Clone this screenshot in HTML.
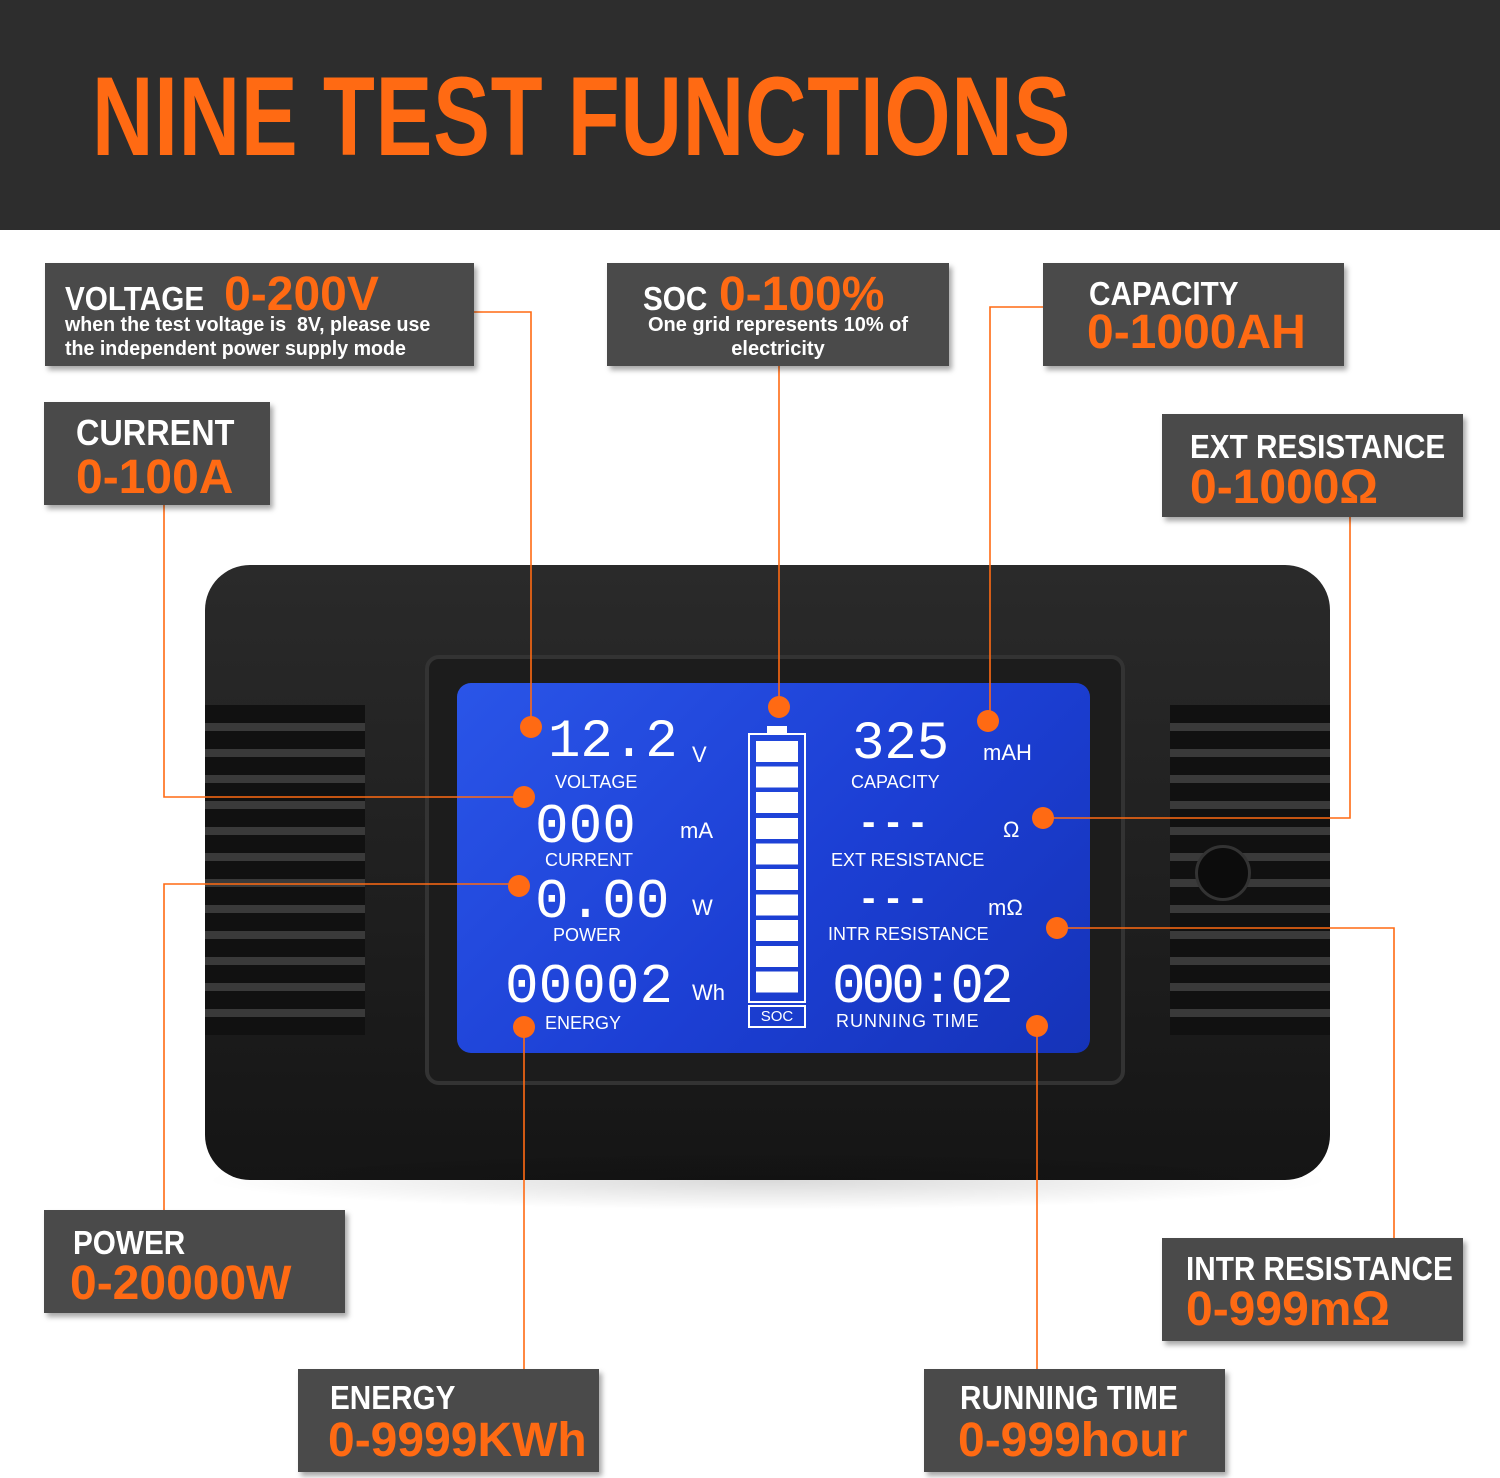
<!DOCTYPE html>
<html><head><meta charset="utf-8"><style>
*{margin:0;padding:0;box-sizing:border-box}
body{width:1500px;height:1478px;background:#fff;position:relative;overflow:hidden;font-family:"Liberation Sans",sans-serif}
.hdr{position:absolute;left:0;top:0;width:1500px;height:230px;background:#2d2d2d}
.title{position:absolute;left:92px;top:52px;font-size:112px;font-weight:bold;color:#ff6a13;white-space:nowrap;transform:scaleX(0.76);transform-origin:left top;letter-spacing:1px}
.box{position:absolute;background:#4a4a4a;box-shadow:3px 4px 5px rgba(0,0,0,.35);color:#fff;font-weight:bold}
.w{font-size:33px;color:#fff;transform:scaleX(.9);transform-origin:left top;white-space:nowrap}
.o{font-size:48px;color:#ff6a13;white-space:nowrap;line-height:1}
.s{font-size:20px;line-height:24px;color:#fff;white-space:nowrap}
.lcd{position:absolute;color:#fff;white-space:nowrap}
.dot{position:absolute;width:22px;height:22px;border-radius:50%;background:#ff6a13;margin:-11px 0 0 -11px}
</style></head><body>
<div class="hdr"></div>
<div class="title">NINE TEST FUNCTIONS</div>

<div style="position:absolute;left:205px;top:565px;width:1125px;height:615px;background:linear-gradient(#2a2a2a,#151515);border-radius:45px"></div>
<div style="position:absolute;left:200px;top:1150px;width:1135px;height:60px;background:radial-gradient(ellipse at center,rgba(0,0,0,.15),rgba(0,0,0,0) 70%)"></div>
<div style="position:absolute;left:205px;top:705px;width:160px;height:330px;background:repeating-linear-gradient(#111 0 18px,#3a3a3a 18px 26px)"></div>
<div style="position:absolute;left:1170px;top:705px;width:160px;height:330px;background:repeating-linear-gradient(#111 0 18px,#3a3a3a 18px 26px)"></div>
<div style="position:absolute;left:1195px;top:845px;width:56px;height:56px;border-radius:50%;background:#0c0c0c;border:3px solid #333"></div>
<div style="position:absolute;left:425px;top:655px;width:700px;height:430px;background:#1c1c1c;border-radius:14px;border:4px solid #333"></div>
<div style="position:absolute;left:457px;top:683px;width:633px;height:370px;background:linear-gradient(135deg,#2a55e8 0%,#1c3fd4 55%,#1533b8 100%);border-radius:14px"></div>

<div class="lcd" style="left:548px;top:712px;font-size:54px;font-family:'Liberation Mono',monospace">12.2</div>
<div class="lcd" style="left:692px;top:742px;font-size:22px">V</div>
<div class="lcd" style="left:555px;top:772px;font-size:18px">VOLTAGE</div>
<div class="lcd" style="left:535px;top:795px;font-size:56px;font-family:'Liberation Mono',monospace">000</div>
<div class="lcd" style="left:680px;top:818px;font-size:22px">mA</div>
<div class="lcd" style="left:545px;top:850px;font-size:18px">CURRENT</div>
<div class="lcd" style="left:535px;top:870px;font-size:56px;font-family:'Liberation Mono',monospace">0.00</div>
<div class="lcd" style="left:692px;top:895px;font-size:22px">W</div>
<div class="lcd" style="left:553px;top:925px;font-size:18px">POWER</div>
<div class="lcd" style="left:505px;top:955px;font-size:56px;font-family:'Liberation Mono',monospace">00002</div>
<div class="lcd" style="left:692px;top:980px;font-size:22px">Wh</div>
<div class="lcd" style="left:545px;top:1013px;font-size:18px">ENERGY</div>

<div style="position:absolute;left:748px;top:733px;width:58px;height:270px;border:2px solid #fff"></div>
<div style="position:absolute;left:767px;top:726px;width:20px;height:8px;background:#fff"></div>
<div style="position:absolute;left:756px;top:741px;width:42px;height:256px;background:repeating-linear-gradient(#fff 0 21px,transparent 21px 25.6px)"></div>
<div style="position:absolute;left:748px;top:1005px;width:58px;height:23px;border:2px solid #fff;color:#fff;font-size:15px;text-align:center;line-height:19px">SOC</div>

<div class="lcd" style="left:852px;top:714px;font-size:54px;font-family:'Liberation Mono',monospace">325</div>
<div class="lcd" style="left:983px;top:740px;font-size:22px">mAH</div>
<div class="lcd" style="left:851px;top:772px;font-size:18px">CAPACITY</div>
<div class="lcd" style="left:862px;top:800px;font-size:40px;font-weight:bold">- - -</div>
<div class="lcd" style="left:1003px;top:817px;font-size:22px">Ω</div>
<div class="lcd" style="left:831px;top:850px;font-size:18px">EXT RESISTANCE</div>
<div class="lcd" style="left:862px;top:876px;font-size:40px;font-weight:bold">- - -</div>
<div class="lcd" style="left:988px;top:895px;font-size:22px">mΩ</div>
<div class="lcd" style="left:828px;top:924px;font-size:18px">INTR RESISTANCE</div>
<div class="lcd" style="left:832px;top:955px;font-size:56px;font-family:'Liberation Mono',monospace;letter-spacing:-4px">000:02</div>
<div class="lcd" style="left:836px;top:1011px;font-size:18px;letter-spacing:1px">RUNNING TIME</div>

<svg style="position:absolute;left:0;top:0" width="1500" height="1478">
<g fill="none" stroke="#ff6a13" stroke-width="1.6">
<polyline points="474,312 531,312 531,727"/>
<polyline points="164,505 164,797 524,797"/>
<polyline points="164,1210 164,884 519,884"/>
<polyline points="524,1027 524,1369"/>
<polyline points="779,366 779,707"/>
<polyline points="1043,307 990,307 990,721"/>
<polyline points="1043,818 1350,818 1350,517"/>
<polyline points="1057,928 1394,928 1394,1238"/>
<polyline points="1037,1026 1037,1369"/>
</g></svg>
<div class="dot" style="left:531px;top:727px"></div>
<div class="dot" style="left:524px;top:797px"></div>
<div class="dot" style="left:519px;top:886px"></div>
<div class="dot" style="left:524px;top:1027px"></div>
<div class="dot" style="left:779px;top:707px"></div>
<div class="dot" style="left:988px;top:721px"></div>
<div class="dot" style="left:1043px;top:818px"></div>
<div class="dot" style="left:1057px;top:928px"></div>
<div class="dot" style="left:1037px;top:1026px"></div>

<div class="box" style="left:45px;top:263px;width:429px;height:103px">
 <div style="position:absolute;left:20px;top:8px;white-space:nowrap"><span class="w" style="display:inline-block">VOLTAGE</span> <span class="o" style="display:inline-block">0-200V</span></div>
 <div class="s" style="position:absolute;left:20px;top:50px;transform:scaleX(.98);transform-origin:left top">when the test voltage is &nbsp;8V, please use<br>the independent power supply mode</div>
</div>
<div class="box" style="left:607px;top:263px;width:342px;height:103px">
 <div style="position:absolute;left:36px;top:8px;white-space:nowrap"><span class="w" style="display:inline-block">SOC</span> <span class="o" style="display:inline-block">0-100%</span></div>
 <div class="s" style="position:absolute;left:0;width:342px;text-align:center;top:50px">One grid represents 10% of<br>electricity</div>
</div>
<div class="box" style="left:1043px;top:263px;width:301px;height:103px">
 <div class="w" style="position:absolute;left:46px;top:12px">CAPACITY</div>
 <div class="o" style="position:absolute;left:44px;top:46px">0-1000AH</div>
</div>
<div class="box" style="left:44px;top:402px;width:226px;height:103px">
 <div class="w" style="position:absolute;left:32px;top:10px;font-size:36px">CURRENT</div>
 <div class="o" style="position:absolute;left:32px;top:52px">0-100A</div>
</div>
<div class="box" style="left:1162px;top:414px;width:301px;height:103px">
 <div class="w" style="position:absolute;left:28px;top:14px">EXT RESISTANCE</div>
 <div class="o" style="position:absolute;left:28px;top:50px">0-1000Ω</div>
</div>
<div class="box" style="left:44px;top:1210px;width:301px;height:103px">
 <div class="w" style="position:absolute;left:29px;top:14px">POWER</div>
 <div class="o" style="position:absolute;left:26px;top:50px">0-20000W</div>
</div>
<div class="box" style="left:1162px;top:1238px;width:301px;height:103px">
 <div class="w" style="position:absolute;left:24px;top:12px">INTR RESISTANCE</div>
 <div class="o" style="position:absolute;left:24px;top:48px">0-999mΩ</div>
</div>
<div class="box" style="left:298px;top:1369px;width:301px;height:103px">
 <div class="w" style="position:absolute;left:32px;top:10px">ENERGY</div>
 <div class="o" style="position:absolute;left:30px;top:48px">0-9999KWh</div>
</div>
<div class="box" style="left:924px;top:1369px;width:301px;height:103px">
 <div class="w" style="position:absolute;left:36px;top:10px">RUNNING TIME</div>
 <div class="o" style="position:absolute;left:34px;top:48px">0-999hour</div>
</div>
</body></html>
